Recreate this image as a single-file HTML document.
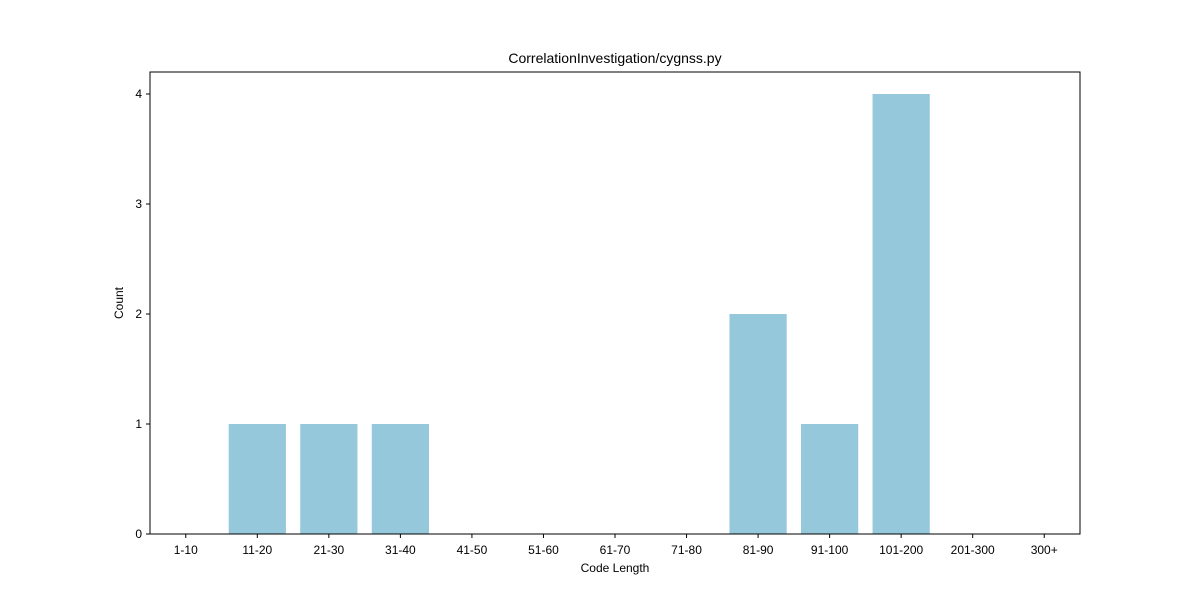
<!DOCTYPE html>
<html><head><meta charset="utf-8"><style>
body{margin:0;background:#fff;}
svg{display:block;font-family:"Liberation Sans","DejaVu Sans",sans-serif;}
</style></head><body>
<svg id="chart" width="1200" height="600">
<rect width="1200" height="600" fill="#fff"/>
<text x="615" y="63" text-anchor="middle" font-size="14" fill="#000">CorrelationInvestigation/cygnss.py</text>
<g id="bars"></g>
<g id="xaxis"></g>
<g id="yaxis"></g>
<rect x="150" y="72" width="930" height="462" fill="none" stroke="#000" stroke-width="1"/>
<text x="615" y="572" text-anchor="middle" font-size="12">Code Length</text>
<text transform="translate(123,303) rotate(-90)" text-anchor="middle" font-size="12">Count</text>
</svg>
<script>
const categories=["1-10","11-20","21-30","31-40","41-50","51-60","61-70","71-80","81-90","91-100","101-200","201-300","300+"];
const counts=[0,1,1,1,0,0,0,0,2,1,4,0,0];
const yTicks=[0,1,2,3,4];
const NS="http://www.w3.org/2000/svg";
const L=150,R=1080,T=72,B=534;
const step=(R-L)/categories.length;
function xc(i){return L+(i+0.5)*step;}
function y(v){return B-v*110;}
function mk(t,a,p){const e=document.createElementNS(NS,t);for(const k in a)e.setAttribute(k,a[k]);p.appendChild(e);return e;}
const bars=document.getElementById('bars'),xa=document.getElementById('xaxis'),ya=document.getElementById('yaxis');
categories.forEach((c,i)=>{
  const w=step*0.8;
  const r=mk('rect',{x:xc(i)-w/2,y:y(counts[i]),width:w,height:B-y(counts[i]),fill:'#96c8dc'},bars);
  
  
  const t=mk('line',{x1:xc(i),x2:xc(i),y1:B,y2:B+4,stroke:'#000'},xa);
  
  
  const l=mk('text',{x:xc(i),y:B+20,'text-anchor':'middle','font-size':'12'},xa);
  l.textContent=c;
  
  
});
yTicks.forEach(v=>{
  const t=mk('line',{x1:L-4,x2:L,y1:y(v),y2:y(v),stroke:'#000'},ya);
  
  
  const l=mk('text',{x:L-8,y:y(v)+4,'text-anchor':'end','font-size':'12'},ya);
  l.textContent=v;
  
  
});
</script>
</body></html>
